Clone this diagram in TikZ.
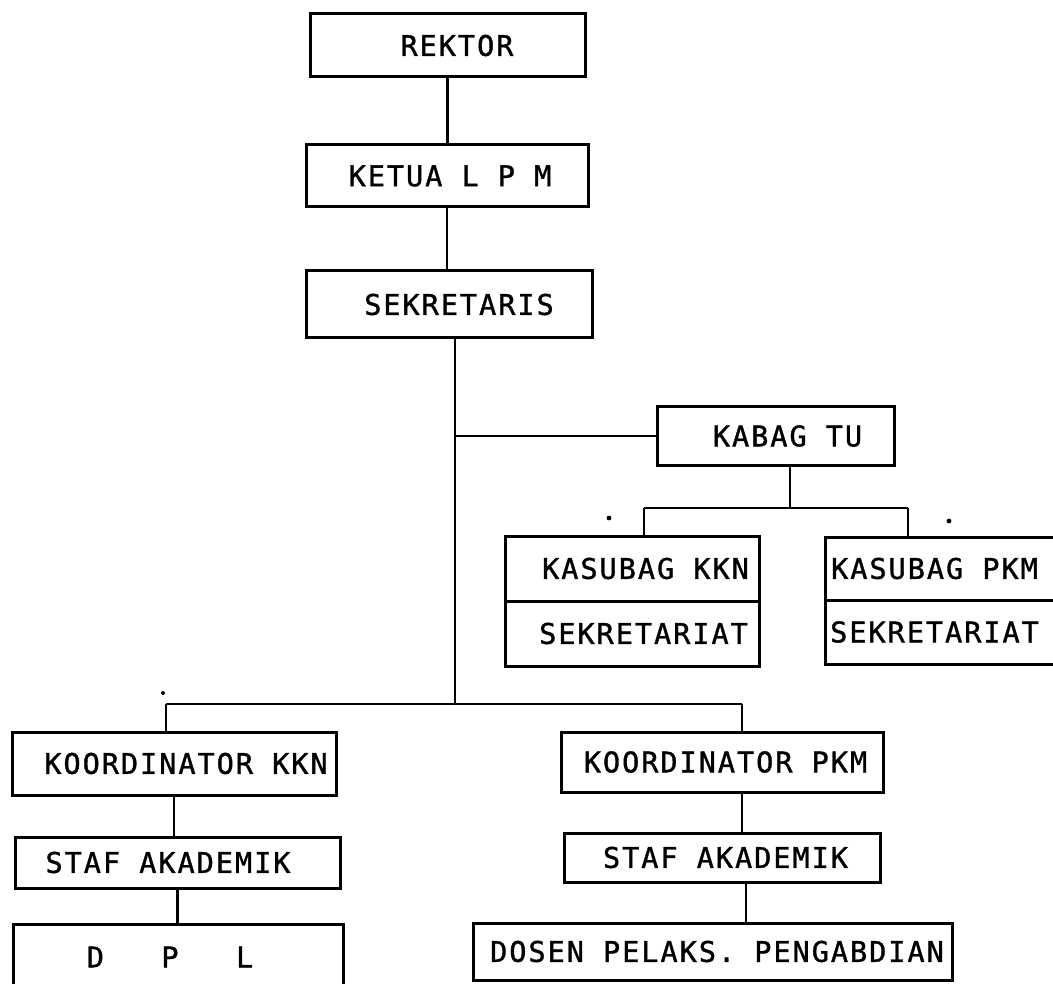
\documentclass[tikz,border=0pt]{standalone}
\usepackage{fontspec}
\usetikzlibrary{calc}
\newfontfamily\typ[LetterSpace=7,FakeBold=1.2]{DejaVu Sans Mono}
\newcommand\sh[2]{\hspace*{#1pt}#2\hspace*{-#1pt}}
\begin{document}
\begin{tikzpicture}[x=1pt,y=-1pt,
  box/.style={draw, line width=3pt, inner sep=0pt, rectangle,
    font=\typ\fontsize{28.5}{30}\selectfont},
  link/.style={line width=2.8pt},
  speck/.style={fill=black}]
\useasboundingbox (0,0) rectangle (1053,984);
% top chain
\node[box, minimum width=275, minimum height=63] (rektor) at (447.5,45.5) {\sh{9.5}{REKTOR}};
\node[box, minimum width=282, minimum height=62] (ketua) at (447,176) {\sh{3}{KETUA L P M}};
\node[box, minimum width=286, minimum height=67] (sekr) at (449,304.5) {\sh{10}{SEKRETARIS}};
% kabag tu
\node[box, minimum width=237, minimum height=58] (kabag) at (775.5,436) {\sh{12}{KABAG TU}};
% kasubag kkn
\node[box, minimum width=254, minimum height=65] (kkn) at (632,568.5) {\sh{13.5}{KASUBAG KKN}};
\node[box, minimum width=254, minimum height=65] (kknsek) at (632,633.5) {\sh{11.5}{SEKRETARIAT}};
% kasubag pkm (right edge runs off the page)
\node[box, minimum width=240, minimum height=63] (pkm) at (945,568.5) {\sh{-10.5}{KASUBAG PKM}};
\node[box, minimum width=240, minimum height=64] (pkmsek) at (945,632) {\sh{-10.5}{SEKRETARIAT}};
% left column
\node[box, minimum width=324, minimum height=63] (koorkkn) at (174,763.5) {\sh{12}{KOORDINATOR KKN}};
\node[box, minimum width=325, minimum height=51] (stafl) at (177.5,862.5) {\sh{-9.5}{STAF AKADEMIK}};
\node[box, minimum width=330, minimum height=66] (dpl) at (178,957) {\sh{-8}{D\ \ \ P\ \ \ L}};
% right column
\node[box, minimum width=322, minimum height=60] (koorpkm) at (722,762) {\sh{3.5}{KOORDINATOR PKM}};
\node[box, minimum width=316, minimum height=49] (stafr) at (722,857.5) {\sh{3.5}{STAF AKADEMIK}};
\node[box, minimum width=479, minimum height=57] (dosen) at (712.5,951.5) {\sh{4.5}{DOSEN PELAKS. PENGABDIAN}};
% junction coordinates
\coordinate (trunk) at (455,704);
\coordinate (bl) at (166,704);
\coordinate (br) at (742,704);
\coordinate (tb) at (790,508);
\coordinate (tl) at (644,508);
\coordinate (tr) at (908,508);
% connectors
\draw[link] (rektor.south) -- (rektor.south |- ketua.north);
\draw[link] (ketua.south) -- (ketua.south |- sekr.north);
\draw[link] (sekr.south -| trunk) -- (trunk);
\draw[link] (kabag.west) -- (kabag.west -| trunk);
\draw[link] (kabag.south -| tb) -- (tb);
\draw[link] (tl) -- (tr);
\draw[link] (tl) -- (tl |- kkn.north);
\draw[link] (tr) -- (tr |- pkm.north);
\draw[link] (bl) -- (br);
\draw[link] (bl) -- (bl |- koorkkn.north);
\draw[link] (br) -- (br |- koorpkm.north);
\draw[link] (koorkkn.south) -- (koorkkn.south |- stafl.north);
\draw[link] (stafl.south) -- (stafl.south |- dpl.north);
\draw[link] (koorpkm.south -| br) -- (br |- stafr.north);
\draw[link] ($(stafr.south -| br)+(4,0)$) -- ($(br |- dosen.north)+(4,0)$);
% scan specks
\fill[speck] (609,518) circle (2.4);
\fill[speck] (949,521) circle (2.4);
\fill[speck] (163,693) circle (2);
\end{tikzpicture}
\end{document}
